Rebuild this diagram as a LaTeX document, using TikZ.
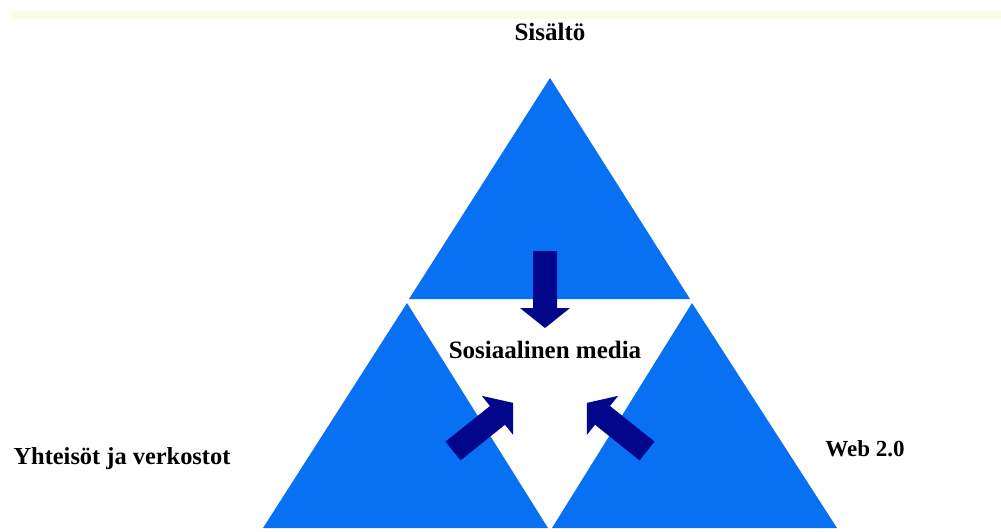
\documentclass[tikz,border=0pt]{standalone}
\usepackage{fontspec}
\setmainfont{Liberation Serif}
\definecolor{triblue}{RGB}{8,112,242}
\definecolor{arrownavy}{RGB}{2,6,138}
\definecolor{paleyellow}{RGB}{250,253,228}
\tikzset{
  tri/.style={fill=triblue},
  lbl/.style={inner sep=0pt, anchor=base, text=black, font=\bfseries},
  blockarrow/.pic={\fill[arrownavy] (0,-12) -- (57,-12) -- (57,-25) -- (77,0) -- (57,25) -- (57,12) -- (0,12) -- cycle;}
}
\begin{document}
\begin{tikzpicture}[x=1pt,y=-1pt]
\useasboundingbox (0,0) rectangle (1001,531);
\fill[white] (0,0) rectangle (1001,531);
% pale band at top
\fill[paleyellow] (11,11) rectangle (1001,19);
% triangle corners
\coordinate (tA) at (550,78);
\coordinate (tL) at (409,299);
\coordinate (tR) at (690,299);
\coordinate (lA) at (407,303);
\coordinate (lL) at (263,528);
\coordinate (lR) at (548,528);
\coordinate (rA) at (692,303);
\coordinate (rL) at (552,528);
\coordinate (rR) at (837,528);
\fill[tri] (tA) -- (tL) -- (tR) -- cycle;
\fill[tri] (lA) -- (lL) -- (lR) -- cycle;
\fill[tri] (rA) -- (rL) -- (rR) -- cycle;
% arrows
\pic[shift={(545,251)}, rotate=-90] {blockarrow};
\pic[shift={(453,451)}, rotate=38.7] {blockarrow};
\pic[shift={(647,451)}, rotate=141.3] {blockarrow};
% labels
\node[lbl, font=\bfseries\fontsize{25}{25}\selectfont] (sisalto) at (550,40) {Sisältö};
\node[lbl, font=\bfseries\fontsize{25}{25}\selectfont] (some) at (545,358) {Sosiaalinen media};
\node[lbl, font=\bfseries\fontsize{24.4}{24.4}\selectfont] (yhteisot) at (122,464) {Yhteisöt ja verkostot};
\node[lbl, font=\bfseries\fontsize{23}{23}\selectfont] (web) at (865,456) {Web 2.0};
\end{tikzpicture}
\end{document}
